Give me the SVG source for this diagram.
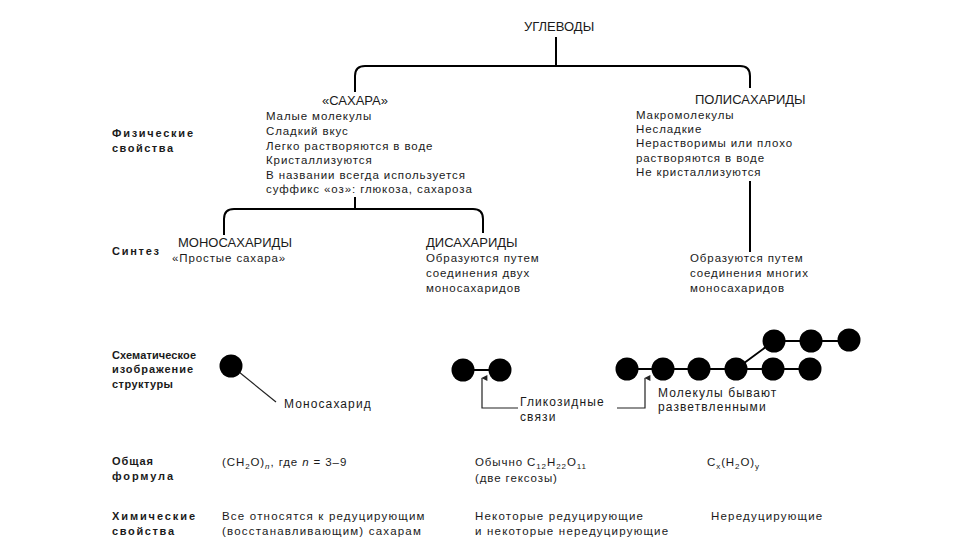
<svg xmlns="http://www.w3.org/2000/svg" width="960" height="540" viewBox="0 0 960 540">
<defs>
<style>
text{font-family:"Liberation Sans",Arial,sans-serif;fill:#1a1a1a}
.t{font-size:11.5px;letter-spacing:0.9px}
.c{font-size:11.5px;letter-spacing:1.2px}
.a{font-size:12px;letter-spacing:1.1px}
.h{font-size:13px}
.b{font-size:11px;font-weight:bold}
.ln{stroke:#000;stroke-width:2;fill:none}
.thin{stroke:#222;stroke-width:1.2;fill:none}
.mol{fill:#000}
</style>
<marker id="ah" viewBox="0 0 10 10" refX="5" refY="1" markerWidth="6" markerHeight="7" orient="auto-start-reverse" markerUnits="userSpaceOnUse">
<path d="M0,10 L5,0 L10,10 Z" fill="#222"/>
</marker>
</defs>
<rect width="960" height="540" fill="#fff"/>
<g id="connectors">
<path class="ln" d="M556,37 V66"/>
<path class="ln" d="M355,92 V76 Q355,66 365,66 H740 Q750,66 750,76 V88"/>
<path class="ln" d="M355,197 V209"/>
<path class="ln" d="M224,235 V219 Q224,209 234,209 H473 Q483,209 483,219 V233"/>
<path class="ln" d="M750,181 V252"/>
<line class="thin" x1="239" y1="372" x2="276" y2="402"/>
<path class="thin" d="M518,408 H482 V378" marker-end="url(#ah)"/>
<path class="thin" d="M617,408 H645 V378" marker-end="url(#ah)"/>
</g>
<g id="labels-left">
<text class="b" x="112" y="137" textLength="81" lengthAdjust="spacing">Физические</text>
<text class="b" x="112" y="152" textLength="61" lengthAdjust="spacing">свойства</text>
<text class="b" x="112" y="255" textLength="47" lengthAdjust="spacing">Синтез</text>
<text class="b" x="112" y="359" textLength="84" lengthAdjust="spacing">Схематическое</text>
<text class="b" x="112" y="373" textLength="81" lengthAdjust="spacing">изображение</text>
<text class="b" x="112" y="388" textLength="61" lengthAdjust="spacing">структуры</text>
<text class="b" x="112" y="465" textLength="41" lengthAdjust="spacing">Общая</text>
<text class="b" x="112" y="480" textLength="61" lengthAdjust="spacing">формула</text>
<text class="b" x="112" y="520" textLength="83" lengthAdjust="spacing">Химические</text>
<text class="b" x="112" y="535" textLength="62" lengthAdjust="spacing">свойства</text>
</g>
<g id="node-root">
<text class="h" x="524" y="31">УГЛЕВОДЫ</text>
</g>
<g id="node-sugars">
<text class="h" x="355" y="105" text-anchor="middle">«САХАРА»</text>
<text class="t" x="266" y="120">Малые молекулы</text>
<text class="t" x="266" y="135">Сладкий вкус</text>
<text class="t" x="266" y="150">Легко растворяются в воде</text>
<text class="t" x="266" y="164">Кристаллизуются</text>
<text class="t" x="266" y="179">В названии всегда используется</text>
<text class="t" x="266" y="193">суффикс «оз»: глюкоза, сахароза</text>
</g>
<g id="node-poly">
<text class="h" x="695" y="104">ПОЛИСАХАРИДЫ</text>
<text class="t" x="636" y="119">Макромолекулы</text>
<text class="t" x="636" y="133">Несладкие</text>
<text class="t" x="636" y="147">Нерастворимы или плохо</text>
<text class="t" x="636" y="162">растворяются в воде</text>
<text class="t" x="636" y="176">Не кристаллизуются</text>
<text class="t" x="690" y="262">Образуются путем</text>
<text class="t" x="690" y="277">соединения многих</text>
<text class="t" x="690" y="292">моносахаридов</text>
</g>
<g id="node-mono">
<text class="h" x="178" y="247">МОНОСАХАРИДЫ</text>
<text class="t" x="172" y="262">«Простые сахара»</text>
</g>
<g id="node-di">
<text class="h" x="426" y="247">ДИСАХАРИДЫ</text>
<text class="t" x="426" y="262">Образуются путем</text>
<text class="t" x="426" y="277">соединения двух</text>
<text class="t" x="426" y="292">моносахаридов</text>
</g>
<g id="structures">
<circle class="mol" cx="231" cy="366" r="11.5"/>
<text class="a" x="284" y="408">Моносахарид</text>
<line x1="463" y1="370" x2="500" y2="370" stroke="#000" stroke-width="2"/>
<circle class="mol" cx="463" cy="370" r="11.5"/>
<circle class="mol" cx="500" cy="370" r="11.5"/>
<text class="a" x="520" y="406">Гликозидные</text>
<text class="a" x="520" y="421">связи</text>
<path d="M627,369 H810 M736,369 L774,341 H849" stroke="#000" stroke-width="2" fill="none"/>
<circle class="mol" cx="627" cy="369" r="11.5"/>
<circle class="mol" cx="663" cy="369" r="11.5"/>
<circle class="mol" cx="699" cy="369" r="11.5"/>
<circle class="mol" cx="736" cy="369" r="11.5"/>
<circle class="mol" cx="773" cy="369" r="11.5"/>
<circle class="mol" cx="810" cy="369" r="11.5"/>
<circle class="mol" cx="774" cy="341" r="11.5"/>
<circle class="mol" cx="811" cy="341" r="11.5"/>
<circle class="mol" cx="849" cy="340" r="11.5"/>
<text class="a" x="658" y="397">Молекулы бывают</text>
<text class="a" x="658" y="411">разветвленными</text>
</g>
<g id="formulas">
<text class="t" x="222" y="466">(CH<tspan font-size="8" dy="3">2</tspan><tspan dy="-3">O)</tspan><tspan font-size="8" dy="3" font-style="italic">n</tspan><tspan dy="-3">, где </tspan><tspan font-style="italic">n</tspan> = 3–9</text>
<text class="t" x="475" y="466">Обычно C<tspan font-size="8" dy="3">12</tspan><tspan dy="-3">H</tspan><tspan font-size="8" dy="3">22</tspan><tspan dy="-3">O</tspan><tspan font-size="8" dy="3">11</tspan></text>
<text class="t" x="475" y="482">(две гексозы)</text>
<text class="t" x="707" y="466">C<tspan font-size="8" dy="3">x</tspan><tspan dy="-3">(H</tspan><tspan font-size="8" dy="3">2</tspan><tspan dy="-3">O)</tspan><tspan font-size="8" dy="3">y</tspan></text>
</g>
<g id="chemical">
<text class="c" x="222" y="520">Все относятся к редуцирующим</text>
<text class="c" x="222" y="535">(восстанавливающим) сахарам</text>
<text class="c" x="475" y="520">Некоторые редуцирующие</text>
<text class="c" x="475" y="535">и некоторые нередуцирующие</text>
<text class="c" x="711" y="520">Нередуцирующие</text>
</g>
</svg>
